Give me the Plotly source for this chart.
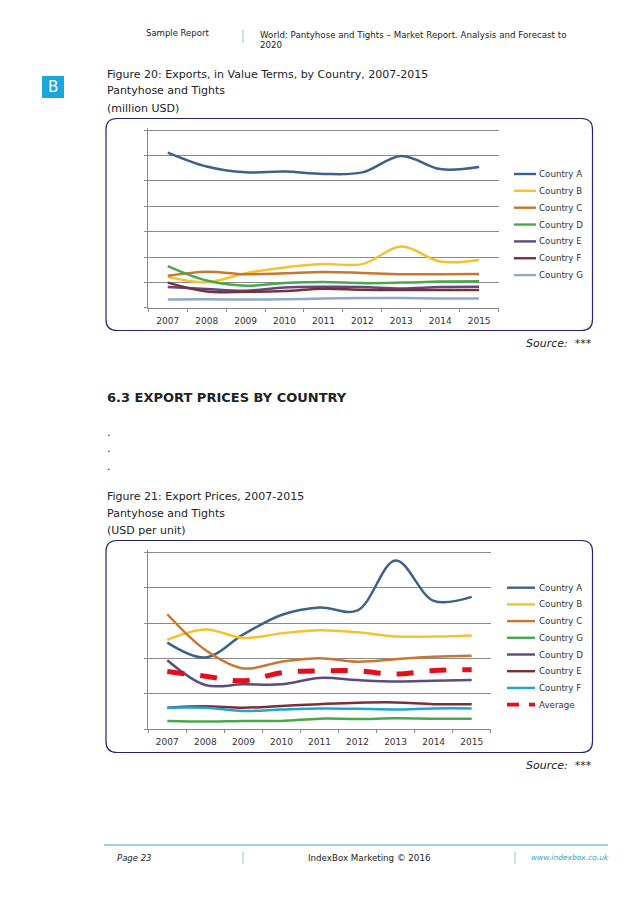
import plotly.graph_objects as go

W, H = 638, 903
FONT = "DejaVu Sans"
TEXT = "#222222"
AXIS = "#8a8a8a"

years = ["2007", "2008", "2009", "2010", "2011", "2012", "2013", "2014", "2015"]

# Figure 20 values (axis units unlabeled)
exp_a = [6.12, 5.57, 5.34, 5.37, 5.28, 5.34, 5.99, 5.47, 5.55]
exp_b = [1.22, 1.00, 1.36, 1.59, 1.72, 1.72, 2.41, 1.82, 1.88]
exp_c = [1.26, 1.42, 1.32, 1.36, 1.41, 1.37, 1.32, 1.32, 1.33]
exp_d = [1.64, 1.07, 0.87, 0.97, 1.01, 0.97, 0.99, 1.03, 1.04]
exp_e = [0.82, 0.74, 0.67, 0.80, 0.83, 0.82, 0.76, 0.82, 0.83]
exp_f = [0.99, 0.64, 0.63, 0.66, 0.75, 0.71, 0.70, 0.70, 0.70]
exp_g = [0.32, 0.33, 0.32, 0.33, 0.36, 0.38, 0.38, 0.36, 0.36]

# Figure 21 values
pr_a = [2.45, 2.03, 2.68, 3.23, 3.44, 3.36, 4.77, 3.63, 3.74]
pr_b = [2.53, 2.82, 2.58, 2.71, 2.80, 2.74, 2.62, 2.62, 2.65]
pr_c = [3.25, 2.24, 1.72, 1.91, 2.01, 1.91, 1.98, 2.05, 2.08]
pr_g = [0.235, 0.217, 0.235, 0.235, 0.30, 0.29, 0.31, 0.30, 0.30]
pr_d = [1.95, 1.25, 1.27, 1.27, 1.45, 1.39, 1.35, 1.37, 1.39]
pr_e = [0.61, 0.65, 0.61, 0.66, 0.71, 0.75, 0.76, 0.71, 0.71]
pr_f = [0.61, 0.61, 0.52, 0.56, 0.59, 0.58, 0.56, 0.59, 0.59]
pr_avg = [1.63, 1.50, 1.37, 1.60, 1.65, 1.65, 1.56, 1.66, 1.68]

BLUE, YEL, ORG, GRN, PUR, BRN, STEEL, CYAN, RED = (
    "#3c6289", "#f4c22f", "#c9762f", "#47a94b", "#5e4a7f",
    "#7b2f38", "#8ea8c8", "#1ea6d2", "#e2101c")

series1 = [("Country A", exp_a, BLUE), ("Country B", exp_b, YEL), ("Country C", exp_c, ORG),
           ("Country D", exp_d, GRN), ("Country E", exp_e, PUR), ("Country F", exp_f, BRN),
           ("Country G", exp_g, STEEL)]
series2 = [("Country A", pr_a, BLUE), ("Country B", pr_b, YEL), ("Country C", pr_c, ORG),
           ("Country G", pr_g, GRN), ("Country D", pr_d, PUR), ("Country E", pr_e, BRN),
           ("Country F", pr_f, CYAN), ("Average", pr_avg, RED)]


def px(x):
    return x / W


def py(y):
    return 1 - y / H


fig = go.Figure()
shapes, notes = [], []


def text(x, y, s, size=11.0, color=TEXT, anchor="left", **font):
    notes.append(dict(x=px(x), y=py(y), xref="paper", yref="paper", text=s, showarrow=False,
                      xanchor=anchor, yanchor="middle", borderpad=0,
                      font=dict(family=FONT, size=size, color=color, **font)))


def line(x0, y0, x1, y1, color, width=1, dash="solid"):
    shapes.append(dict(type="line", xref="paper", yref="paper", x0=px(x0), y0=py(y0),
                       x1=px(x1), y1=py(y1), line=dict(color=color, width=width, dash=dash)))


def round_box(x0, y0, x1, y1, r=11):
    pts = [(x0 + r, y0), (x1 - r, y0), (x1, y0 + r), (x1, y1 - r), (x1 - r, y1), (x0 + r, y1), (x0, y1 - r), (x0, y0 + r)]
    p = [(px(a), py(b)) for a, b in pts]
    path = (f"M {p[0][0]} {p[0][1]} L {p[1][0]} {p[1][1]} Q {px(x1)} {py(y0)} {p[2][0]} {p[2][1]} "
            f"L {p[3][0]} {p[3][1]} Q {px(x1)} {py(y1)} {p[4][0]} {p[4][1]} "
            f"L {p[5][0]} {p[5][1]} Q {px(x0)} {py(y1)} {p[6][0]} {p[6][1]} "
            f"L {p[7][0]} {p[7][1]} Q {px(x0)} {py(y0)} {p[0][0]} {p[0][1]} Z")
    shapes.append(dict(type="path", xref="paper", yref="paper", path=path,
                       line=dict(color="#25246e", width=1.2), layer="below"))


def add_chart(idx, series, xdom, ydom, ymax, leg_x, leg_y0, leg_step):
    xa, ya = ("x", "y") if idx == 1 else (f"x{idx}", f"y{idx}")
    for i, (name, vals, color) in enumerate(series):
        avg = name == "Average"
        fig.add_trace(go.Scatter(x=years, y=vals, mode="lines", name=name, xaxis=xa, yaxis=ya,
                                 showlegend=False,
                                 line=dict(color=color, width=5 if avg else 2.5, shape="spline",
                                           smoothing=1.0, dash="17px,16px" if avg else "solid")))
        ly = leg_y0 + i * leg_step
        line(leg_x, ly, 536 if idx == 1 else 535, ly, color, 3.6 if avg else 2.4, "12px,10px" if avg else "solid")
        text(538, ly, name, size=8.7, color="#333333")
    # a sliver of headroom keeps the top gridline, which plotly clips at the exact range end
    pad = 2 * (ymax / (ydom[1] - ydom[0]))
    axis_x = dict(domain=[px(xdom[0]), px(xdom[1])], type="category", range=[-0.5, 8.5],
                  tickson="boundaries", ticks="outside", ticklen=3, tickcolor=AXIS,
                  showline=True, linecolor=AXIS, linewidth=1, showgrid=False,
                  tickfont=dict(family=FONT, size=9, color="#333333"), tickangle=0,
                  ticklabelstandoff=4,
                  anchor="y" if idx == 1 else f"y{idx}")
    axis_y = dict(domain=[py(ydom[1]), py(ydom[0] - 2)], range=[0, ymax + pad], tick0=0, dtick=1,
                  ticks="outside", ticklen=3, tickcolor=AXIS, showticklabels=False,
                  showline=True, linecolor=AXIS, linewidth=1, showgrid=True,
                  gridcolor=AXIS, gridwidth=1, zeroline=False,
                  anchor="x" if idx == 1 else f"x{idx}")
    fig.layout["xaxis" if idx == 1 else f"xaxis{idx}"] = axis_x
    fig.layout["yaxis" if idx == 1 else f"yaxis{idx}"] = axis_y


add_chart(1, series1, (148.3, 498.6), (130.3, 307.7), 7, 514, 174, 16.85)
add_chart(2, series2, (148.3, 490.7), (552.3, 729.3), 5, 507, 587.7, 16.7)

round_box(106, 118.5, 592.5, 330.5)
round_box(106, 540.5, 592.5, 752.5)

# page header
text(145, 33, "Sample Report", size=8.5)
text(259, 35, "World: Pantyhose and Tights – Market Report. Analysis and Forecast to", size=8.7)
text(259, 45, "2020", size=8.7)
line(243, 30, 243, 43, "#a9dbe8", 1.5)
shapes.append(dict(type="rect", xref="paper", yref="paper", x0=px(42), x1=px(64), y0=py(76), y1=py(98),
                   fillcolor="#1ba6dd", line=dict(width=0)))
text(53, 87, "B", size=15, color="white", anchor="center")

# page text
text(106, 75, "Figure 20: Exports, in Value Terms, by Country, 2007-2015")
text(106, 91, "Pantyhose and Tights")
text(106, 108.5, "(million USD)")
text(593, 343, "<i>Source:  ***</i>", anchor="right")
text(106, 398, "<b>6.3 EXPORT PRICES BY COUNTRY</b>", size=13)
text(106, 432, ".")
text(106, 449, ".")
text(106, 466, ".")
text(106, 496, "Figure 21: Export Prices, 2007-2015")
text(106, 513, "Pantyhose and Tights")
text(106, 530, "(USD per unit)")
text(593, 765, "<i>Source:  ***</i>", anchor="right")

# page footer
line(104, 845, 608, 845, "#7cc6dc", 1.5)
line(243, 852, 243, 864, "#a9dbe8", 1.5)
line(515, 852, 515, 864, "#a9dbe8", 1.5)
text(116, 858, "<i>Page 23</i>", size=8.5)
text(307, 858, "IndexBox Marketing © 2016", size=8.7)
text(530, 857, "<i>www.indexbox.co.uk</i>", size=7.5, color="#2aa3c4")

fig.update_layout(width=W, height=H, margin=dict(l=0, r=0, t=0, b=0), autosize=False,
                  paper_bgcolor="white", plot_bgcolor="white", showlegend=False,
                  shapes=shapes, annotations=notes)

fig.write_html("out.html", config={"displayModeBar": False},
               post_script="document.body.style.margin='0';document.body.style.overflow='hidden';")
